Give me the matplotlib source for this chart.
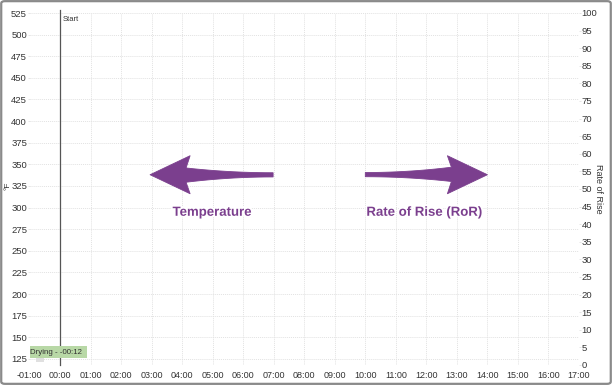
import matplotlib
matplotlib.use("Agg")
import matplotlib.pyplot as plt
import matplotlib.patheffects as pe
import numpy as np
from matplotlib.patches import Rectangle, FancyBboxPatch, Polygon
from matplotlib.ticker import FuncFormatter

# axis ranges / ticks (minutes, °F, RoR)
TIME_TICKS = list(range(-1, 18))
TEMP_TICKS = list(range(125, 526, 25))
ROR_TICKS = list(range(0, 101, 5))
TEMP_LIM = (118, 525)
ROR_LIM = (0, 100)

# events and phases
START_TIME = 0.0
DRYING_START = -1.0
DRYING_END = 0.885
DRYING_LABEL = "Drying - -00:12"

# annotation arrows: (tail, tip) in (minutes, °F)
TEMP_ARROW = ((6.98, 338), (2.95, 338))
ROR_ARROW = ((10.0, 338), (14.0, 338))

PURPLE = "#7b3f8e"
GRID = "#e2e2e2"


def mmss(v, _pos=None):
    m = int(round(v))
    sign = "-" if m < 0 else ""
    return f"{sign}{abs(m):02d}:00"


def swoosh(ax, tail, tip, head_len=40, head_half=19, neck_half=7.5,
           tail_half=2.2, color=PURPLE):
    """Tapered block arrow drawn in pixel space."""
    p0 = np.array(ax.transData.transform(tail))
    p1 = np.array(ax.transData.transform(tip))
    d = p1 - p0
    length = np.hypot(*d)
    u = d / length
    n = np.array([-u[1], u[0]])
    shaft_len = length - head_len + 4
    t = np.linspace(0, 1, 12)
    w = tail_half + (neck_half - tail_half) * t ** 2
    upper = [p0 + u * shaft_len * ti + n * wi for ti, wi in zip(t, w)]
    lower = [p0 + u * shaft_len * ti - n * wi * 0.9 for ti, wi in zip(t, w)]
    back = p1 - u * head_len
    head = [back + n * head_half, p1, back - n * head_half]
    pts = upper + head + lower[::-1]
    ax.add_patch(Polygon(pts, closed=True, transform=None, fc=color,
                         ec=color, lw=0.6, zorder=4, joinstyle="round"))


fig = plt.figure(figsize=(6.12, 3.85), dpi=100)
plt.rcParams["font.family"] = ["Liberation Sans", "DejaVu Sans"]

ax = fig.add_axes([29.5 / 612, 20 / 385, 549.5 / 612, 352 / 385])
ax2 = ax.twinx()

ax.set_xlim(TIME_TICKS[0], TIME_TICKS[-1])
ax.set_ylim(*TEMP_LIM)
ax2.set_ylim(*ROR_LIM)
ax.set_xticks(TIME_TICKS)
ax.set_yticks(TEMP_TICKS)
ax2.set_yticks(ROR_TICKS)
ax.xaxis.set_major_formatter(FuncFormatter(mmss))

ax.grid(True, color=GRID, ls=(0, (1, 1)), lw=0.7)
for a in (ax, ax2):
    for s in a.spines.values():
        s.set_visible(False)
    a.tick_params(labelsize=6.8, colors="#333333", length=1.5, width=0.6,
                  pad=0.3)
    a.tick_params(axis="both", color=GRID)
ax.tick_params(axis="x", length=0, pad=4, labelsize=6.5)

ax.set_ylabel("°F", fontsize=6, color="#333333", va="center")
ax.yaxis.set_label_coords(-22 / 549.5, 0.508)
ax2.set_ylabel("Rate of Rise", fontsize=6.5, color="#333333", rotation=270,
               va="center")
ax2.yaxis.set_label_coords(1 + 19 / 549.5, 0.5)

# start marker
ax.axvline(START_TIME, color="#555555", lw=0.9, ymax=1.008, clip_on=False)
ax.text(START_TIME + 0.08, 521, "Start", fontsize=5.5, color="#333333",
        va="top", ha="left")

# drying phase
ax.add_patch(Rectangle((DRYING_START, 126.2), DRYING_END - DRYING_START,
                       13.8, color="#b8d8a6", lw=0, zorder=2))
ax.add_patch(Rectangle((-0.8, 121.5), 0.26, 4.7, color="#e0e0e0", lw=0,
                       zorder=2))
ax.text(DRYING_START + 0.02, 133, DRYING_LABEL, fontsize=5.7,
        color="#333333", va="center", ha="left", zorder=3)

# annotation arrows and labels
swoosh(ax, *TEMP_ARROW)
swoosh(ax, *ROR_ARROW)
halo = [pe.withStroke(linewidth=2.5, foreground="white")]
ax.text(4.98, 294, "Temperature", fontsize=9.5, fontweight="bold",
        color=PURPLE, ha="center", va="center", path_effects=halo, zorder=4)
ax.text(11.93, 294, "Rate of Rise (RoR)", fontsize=9.5, fontweight="bold",
        color=PURPLE, ha="center", va="center", path_effects=halo, zorder=4)

# outer frame
fig.patches.append(FancyBboxPatch((0.002, 0.003), 0.996, 0.994,
                                  boxstyle="round,pad=0,rounding_size=0.006",
                                  transform=fig.transFigure, fill=False,
                                  ec="#8a8a8a", lw=1.6))

fig.savefig("out.png", dpi=100, facecolor="white")
